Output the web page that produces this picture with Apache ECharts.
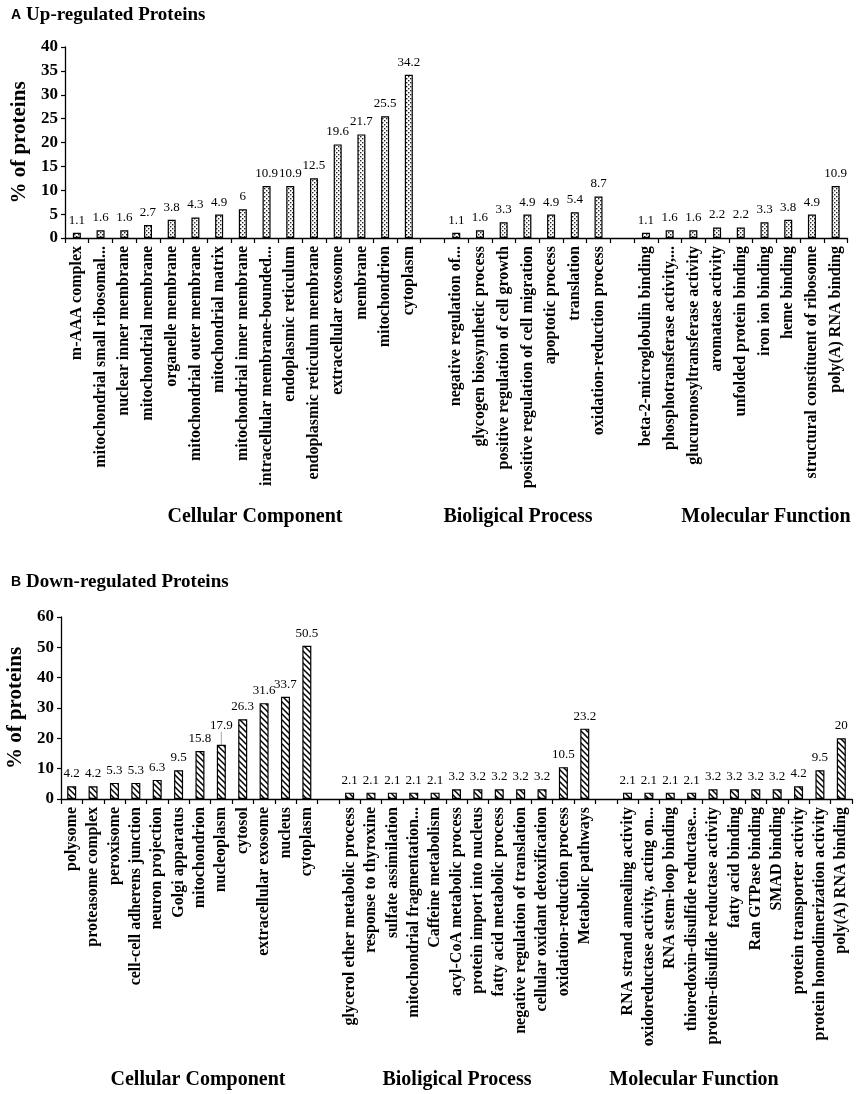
<!DOCTYPE html>
<html>
<head>
<meta charset="utf-8">
<script src="https://cdn.jsdelivr.net/npm/echarts@6/dist/echarts.min.js"></script>
<style>
  html, body { margin: 0; padding: 0; background: #fff; }
  #main { width: 856px; height: 1094px; }
</style>
</head>
<body>
<div id="main"></div>
<script>
// Up-regulated proteins (panel A)
var upCCNames = ['m-AAA complex', 'mitochondrial small ribosomal...', 'nuclear inner membrane', 'mitochondrial membrane',
  'organelle membrane', 'mitochondrial outer membrane', 'mitochondrial matrix', 'mitochondrial inner membrane',
  'intracellular membrane-bounded...', 'endoplasmic reticulum', 'endoplasmic reticulum membrane', 'extracellular exosome',
  'membrane', 'mitochondrion', 'cytoplasm'];
var upCCValues = [1.1, 1.6, 1.6, 2.7, 3.8, 4.3, 4.9, 6, 10.9, 10.9, 12.5, 19.6, 21.7, 25.5, 34.2];
var upBPNames = ['negative regulation of...', 'glycogen biosynthetic process', 'positive regulation of cell growth',
  'positive regulation of cell migration', 'apoptotic process', 'translation', 'oxidation-reduction process'];
var upBPValues = [1.1, 1.6, 3.3, 4.9, 4.9, 5.4, 8.7];
var upMFNames = ['beta-2-microglobulin binding', 'phosphotransferase activity,...', 'glucuronosyltransferase activity',
  'aromatase activity', 'unfolded protein binding', 'iron ion binding', 'heme binding',
  'structural constituent of ribosome', 'poly(A) RNA binding'];
var upMFValues = [1.1, 1.6, 1.6, 2.2, 2.2, 3.3, 3.8, 4.9, 10.9];

// Down-regulated proteins (panel B)
var downCCNames = ['polysome', 'proteasome complex', 'peroxisome', 'cell-cell adherens junction', 'neuron projection',
  'Golgi apparatus', 'mitochondrion', 'nucleoplasm', 'cytosol', 'extracellular exosome', 'nucleus', 'cytoplasm'];
var downCCValues = [4.2, 4.2, 5.3, 5.3, 6.3, 9.5, 15.8, 17.9, 26.3, 31.6, 33.7, 50.5];
var downBPNames = ['glycerol ether metabolic process', 'response to thyroxine', 'sulfate assimilation',
  'mitochondrial fragmentation...', 'Caffeine metabolism', 'acyl-CoA metabolic process', 'protein import into nucleus',
  'fatty acid metabolic process', 'negative regulation of translation', 'cellular oxidant detoxification',
  'oxidation-reduction process', 'Metabolic pathways'];
var downBPValues = [2.1, 2.1, 2.1, 2.1, 2.1, 3.2, 3.2, 3.2, 3.2, 3.2, 10.5, 23.2];
var downMFNames = ['RNA strand annealing activity', 'oxidoreductase activity, acting on...', 'RNA stem-loop binding',
  'thioredoxin-disulfide reductase...', 'protein-disulfide reductase activity', 'fatty acid binding',
  'Ran GTPase binding', 'SMAD binding', 'protein transporter activity', 'protein homodimerization activity',
  'poly(A) RNA binding'];
var downMFValues = [2.1, 2.1, 2.1, 2.1, 3.2, 3.2, 3.2, 3.2, 4.2, 9.5, 20];

var groupNames = ['Cellular Component', 'Bioligical Process', 'Molecular Function'];
var upTicks = [0, 40, 5];
var downTicks = [0, 60, 10];

// one empty slot between the groups
var upCats = upCCNames.concat([''], upBPNames, [' '], upMFNames);
var upVals = upCCValues.concat(['-'], upBPValues, ['-'], upMFValues);
var downCats = downCCNames.concat([''], downBPNames, [' '], downMFNames);
var downVals = downCCValues.concat(['-'], downBPValues, ['-'], downMFValues);

// the 17.9 label sits a bit higher with a small leader line
var idx179 = downVals.indexOf(17.9);
var downData = downVals.map(function (v, i) {
  return i === idx179 ? { value: v, labelLine: { show: true, lineStyle: { color: '#aaa', width: 1 } } } : v;
});

function dotPattern() {
  var c = document.createElement('canvas');
  c.width = 4; c.height = 4;
  var ctx = c.getContext('2d');
  ctx.fillStyle = '#fff';
  ctx.fillRect(0, 0, 4, 4);
  ctx.fillStyle = '#222';
  ctx.fillRect(0, 0, 1.4, 1.4);
  ctx.fillRect(2, 2, 1.4, 1.4);
  return c;
}

function hatchPattern() {
  var c = document.createElement('canvas');
  c.width = 6; c.height = 6;
  var ctx = c.getContext('2d');
  ctx.fillStyle = '#fff';
  ctx.fillRect(0, 0, 6, 6);
  ctx.strokeStyle = '#000';
  ctx.lineWidth = 1.5;
  ctx.beginPath();
  ctx.moveTo(-1, -1); ctx.lineTo(7, 7);
  ctx.moveTo(5, -1); ctx.lineTo(7, 1);
  ctx.moveTo(-1, 5); ctx.lineTo(1, 7);
  ctx.stroke();
  return c;
}

var serif = 'Liberation Serif';
var chart = echarts.init(document.getElementById('main'), null, { renderer: 'canvas' });

function xAxisOf(gridIndex, cats) {
  return {
    type: 'category',
    gridIndex: gridIndex,
    data: cats,
    axisLine: { lineStyle: { color: '#000', width: 1.3 } },
    axisTick: { show: true, interval: 0, length: 5, lineStyle: { color: '#000', width: 1.2 } },
    axisLabel: {
      interval: 0, rotate: 90, margin: 8,
      fontFamily: serif, fontWeight: 'bold', fontSize: 16, color: '#000'
    }
  };
}

function yAxisOf(gridIndex, ticks) {
  return {
    type: 'value',
    gridIndex: gridIndex,
    min: ticks[0], max: ticks[1], interval: ticks[2],
    name: '% of proteins',
    nameLocation: 'middle',
    nameGap: 30,
    nameTextStyle: { fontFamily: serif, fontWeight: 'bold', fontSize: 21, color: '#000' },
    splitLine: { show: false },
    axisLine: { show: true, lineStyle: { color: '#000', width: 1.3 } },
    axisTick: { show: true, length: 4, lineStyle: { color: '#000', width: 1.2 } },
    axisLabel: { fontFamily: serif, fontWeight: 'bold', fontSize: 17, color: '#000', margin: 7 }
  };
}

var option = {
  animation: false,
  backgroundColor: '#fff',
  title: [{
    text: '{a|A} {b|Up-regulated Proteins}',
    left: 6, top: 1,
    textStyle: { rich: {
      a: { fontFamily: 'Liberation Sans', fontWeight: 'bold', fontSize: 14, color: '#000' },
      b: { fontFamily: serif, fontWeight: 'bold', fontSize: 19, color: '#000' }
    } }
  }, {
    text: '{a|B} {b|Down-regulated Proteins}',
    left: 6, top: 568,
    textStyle: { rich: {
      a: { fontFamily: 'Liberation Sans', fontWeight: 'bold', fontSize: 14, color: '#000' },
      b: { fontFamily: serif, fontWeight: 'bold', fontSize: 19, color: '#000' }
    } }
  }],
  grid: [
    { left: 65, right: 8.5, top: 47, height: 191, outerBoundsMode: 'none' },
    { left: 61, right: 4, top: 617, height: 182, outerBoundsMode: 'none' }
  ],
  xAxis: [xAxisOf(0, upCats), xAxisOf(1, downCats)],
  yAxis: [yAxisOf(0, upTicks), yAxisOf(1, downTicks)],
  series: [{
    type: 'bar',
    xAxisIndex: 0, yAxisIndex: 0,
    data: upVals,
    barWidth: 8,
    itemStyle: { color: { image: dotPattern(), repeat: 'repeat' }, borderColor: '#000', borderWidth: 1.2 },
    label: { show: true, position: 'top', distance: 6, fontFamily: serif, fontSize: 13, color: '#000' }
  }, {
    type: 'bar',
    xAxisIndex: 1, yAxisIndex: 1,
    data: downData,
    barWidth: 9,
    itemStyle: { color: { image: hatchPattern(), repeat: 'repeat' }, borderColor: '#000', borderWidth: 1.2 },
    label: { show: true, position: 'top', distance: 6, fontFamily: serif, fontSize: 13, color: '#000' },
    labelLine: { show: false },
    labelLayout: function (p) {
      if (p.dataIndex === idx179) return { dy: -7 };
    }
  }],
  graphic: [
    { type: 'text', x: 255, y: 517, style: { text: groupNames[0], font: 'bold 20px "Liberation Serif"', textAlign: 'center', textVerticalAlign: 'middle', fill: '#000' } },
    { type: 'text', x: 518, y: 517, style: { text: groupNames[1], font: 'bold 20px "Liberation Serif"', textAlign: 'center', textVerticalAlign: 'middle', fill: '#000' } },
    { type: 'text', x: 766, y: 517, style: { text: groupNames[2], font: 'bold 20px "Liberation Serif"', textAlign: 'center', textVerticalAlign: 'middle', fill: '#000' } },
    { type: 'text', x: 198, y: 1080, style: { text: groupNames[0], font: 'bold 20px "Liberation Serif"', textAlign: 'center', textVerticalAlign: 'middle', fill: '#000' } },
    { type: 'text', x: 457, y: 1080, style: { text: groupNames[1], font: 'bold 20px "Liberation Serif"', textAlign: 'center', textVerticalAlign: 'middle', fill: '#000' } },
    { type: 'text', x: 694, y: 1080, style: { text: groupNames[2], font: 'bold 20px "Liberation Serif"', textAlign: 'center', textVerticalAlign: 'middle', fill: '#000' } }
  ]
};

chart.setOption(option);
</script>
</body>
</html>
